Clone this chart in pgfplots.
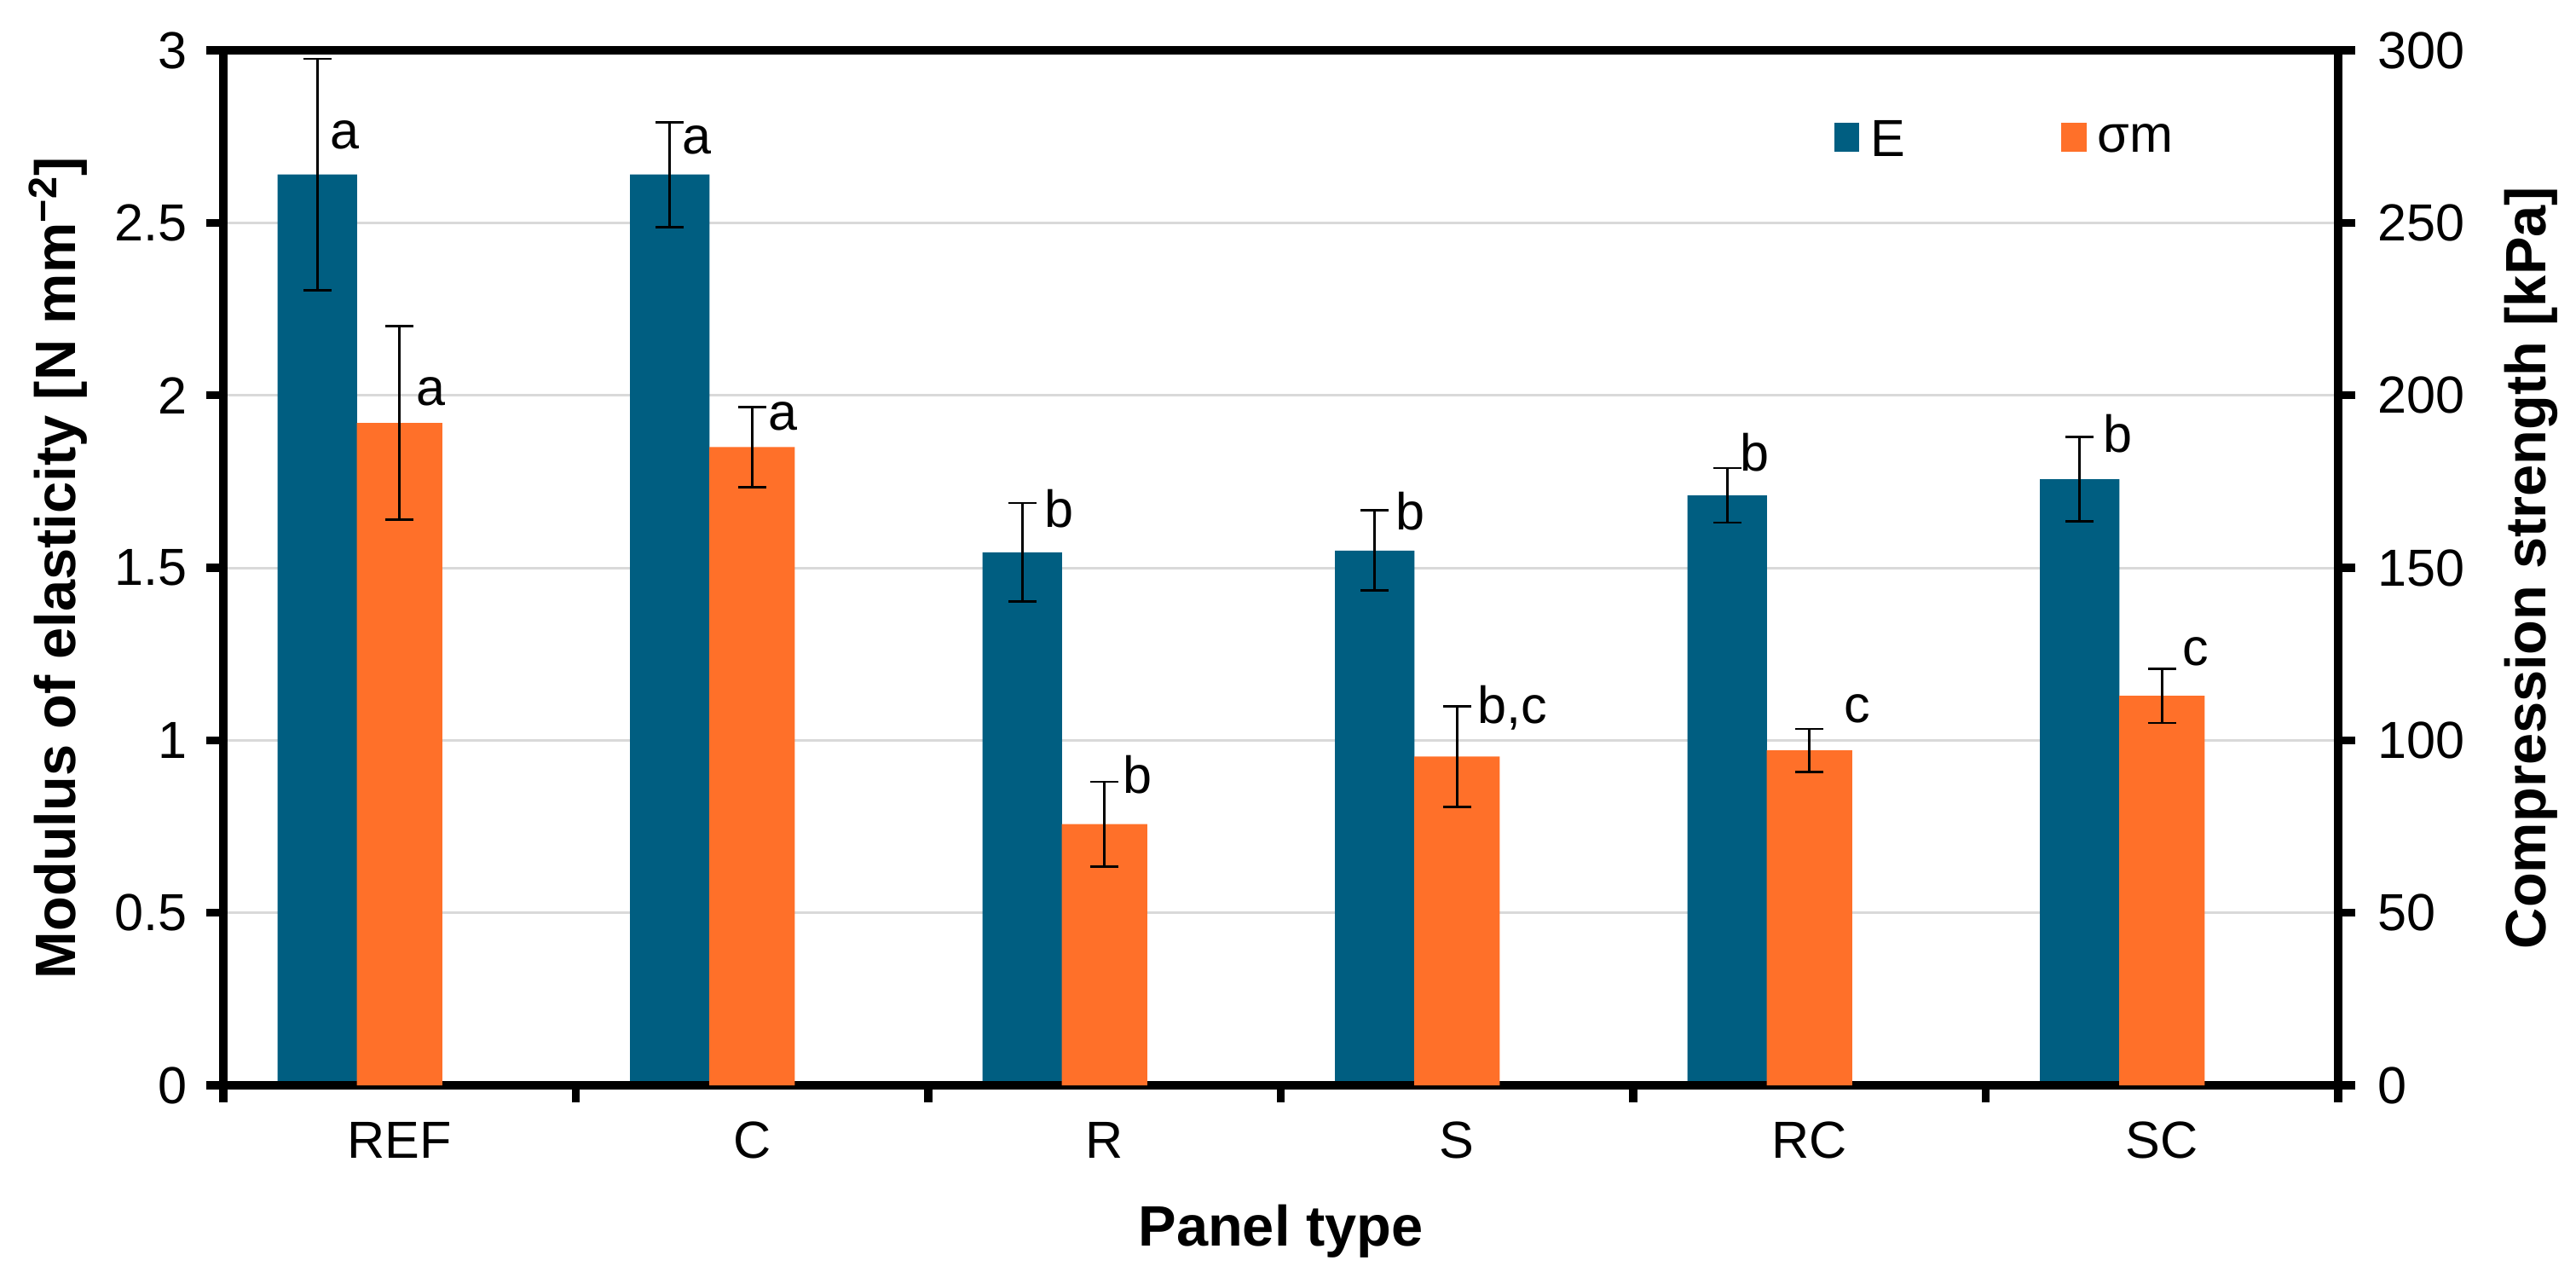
\documentclass[border=0pt]{standalone}
\usepackage{fontspec}
\setmainfont{Liberation Sans}
\usepackage{pgfplots}
\usepackage{pgfplotstable}
\pgfplotsset{compat=1.18}

\definecolor{eblue}{HTML}{005E81}
\definecolor{sorange}{HTML}{FF7029}
\definecolor{gridgray}{HTML}{D9D9D9}

% modulus of elasticity [N/mm2]
\pgfplotstableread{
x E Eerr
0 2.640 0.335
1 2.640 0.152
2 1.545 0.143
3 1.550 0.116
4 1.710 0.079
5 1.757 0.123
}\Etab

% compression strength [kPa]
\pgfplotstableread{
x S Serr
0 192.0 28.0
1 185.0 11.6
2 75.7 12.3
3 95.3 14.6
4 97.1 6.2
5 112.9 7.9
}\Stab

\newcommand{\tickfont}{\fontsize{17.4}{20}\selectfont}
\newcommand{\labfont}{\fontsize{19}{22}\selectfont\bfseries}

\tikzset{lab/.style={anchor=base west, inner sep=0pt, font=\tickfont}}

\pgfplotsset{
  base/.style={
    scale only axis, width=24.81cm, height=12.14cm,
    xmin=-0.5, xmax=5.5,
    tick align=outside,
    major tick length=0.2cm, minor tick length=0.2cm,
    axis line style={line width=2.6pt, black},
    tick style={line width=2.6pt, black},
    tick label style={font=\tickfont},
    /pgf/number format/assume math mode=true,
    scaled y ticks=false,
  },
  % blue bars sit left of the category centre, orange bars on it
  ebar/.style={ybar, bar width=0.226, bar shift=0, fill=eblue, draw=none},
  sbar/.style={ybar, bar width=0.242, bar shift=0, fill=sorange, draw=none},
  errs/.style={error bars/.cd, y dir=both, y explicit,
    error bar style={black, line width=0.77pt},
    error mark options={black, rotate=90, mark size=0.165cm, line width=0.77pt}},
}

\begin{document}
\begin{tikzpicture}
\useasboundingbox (-2.62,-2.18) rectangle (27.60,12.73);

\begin{axis}[base,
  ymin=0, ymax=3, ytick={0,0.5,...,3}, ytick pos=left,
  xtick pos=left,
  xtick={0,1,2,3,4,5},
  xticklabels={REF,C,R,S,RC,SC},
  every major x tick/.append style={draw=none},
  minor xtick={-0.5,0.5,...,5.5},
  xticklabel style={anchor=base, yshift=-0.65cm},
  yticklabel style={xshift=-0.10cm},
  ymajorgrids, grid style={gridgray, line width=0.85pt},
  every axis y label/.style={at={(axis description cs:-0.0701,0.5)}, anchor=base, rotate=90, font=\labfont},
  every axis x label/.style={at={(axis description cs:0.5,-0.155)}, anchor=base, font=\labfont},
  ylabel={Modulus of elasticity [N mm\textsuperscript{−2}]},
  xlabel={Panel type},
]
\addplot[ebar, errs] table[x expr=\thisrow{x}-0.2334, y=E, y error=Eerr] {\Etab};
\node[lab] at (axis cs:-0.199,2.715) {a};
\node[lab] at (axis cs:0.801,2.699) {a};
\node[lab] at (axis cs:1.828,1.617) {b};
\node[lab] at (axis cs:2.825,1.609) {b};
\node[lab] at (axis cs:3.801,1.781) {b};
\node[lab] at (axis cs:4.832,1.834) {b};
\end{axis}

\begin{axis}[base,
  ymin=0, ymax=300, ytick={0,50,...,300},
  axis y line*=right, axis x line*=bottom, xtick=\empty,
  tick align=outside,
  yticklabel style={xshift=0.14cm},
  every axis y label/.style={at={(axis description cs:1.0983,0.5)}, anchor=base, rotate=90, font=\labfont},
  ylabel={Compression strength [kPa]},
  legend columns=2,
  legend style={at={(axis description cs:0.7618,0.9127)}, anchor=west,
    draw=none, fill=none, inner sep=0pt, outer sep=0pt,
    nodes={inner sep=0pt, font=\tickfont},
    /tikz/every odd column/.append style={column sep=0.13cm},
    /tikz/every even column/.append style={column sep=1.83cm}},
]
\addlegendimage{legend image code/.code={\fill[eblue] (0cm,-0.12cm) rectangle (0.28cm,0.20cm);}}
\addlegendentry{E}
\addlegendimage{legend image code/.code={\fill[sorange] (0cm,-0.12cm) rectangle (0.28cm,0.20cm);}}
\addlegendentry{σm}
\addplot[forget plot, sbar, errs] table[x=x, y=S, y error=Serr] {\Stab};
\node[lab] at (axis cs:0.046,197.1) {a};
\node[lab] at (axis cs:1.046,189.9) {a};
\node[lab] at (axis cs:2.051,84.7) {b};
\node[lab] at (axis cs:3.058,104.8) {b,c};
\node[lab] at (axis cs:4.097,105.2) {c};
\node[lab] at (axis cs:5.056,121.6) {c};
\end{axis}
\end{tikzpicture}
\end{document}
